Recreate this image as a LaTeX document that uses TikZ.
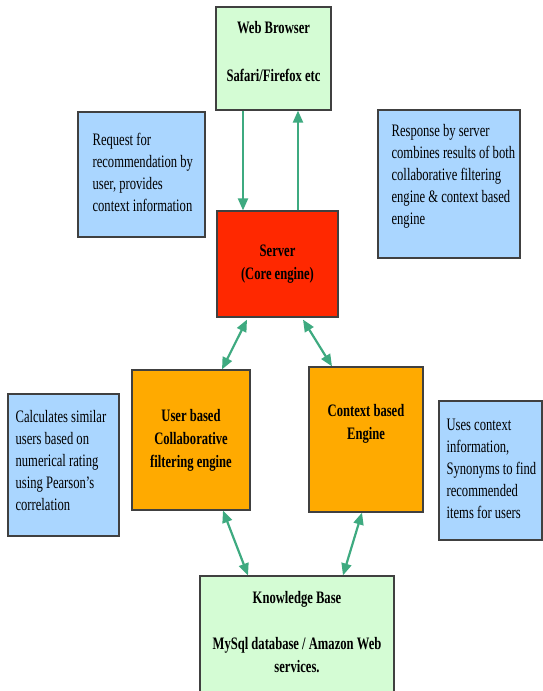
\documentclass[tikz,border=0pt]{standalone}
\usepackage{fontspec}
\setmainfont{Liberation Serif}[FakeStretch=0.72]
\usetikzlibrary{arrows.meta,calc}
\definecolor{boxgreen}{RGB}{212,252,212}
\definecolor{boxblue}{RGB}{170,214,255}
\definecolor{boxred}{RGB}{255,40,0}
\definecolor{boxorange}{RGB}{255,170,0}
\definecolor{arrowgreen}{RGB}{62,170,128}
\definecolor{edgegray}{RGB}{64,64,64}
\begin{document}
\begin{tikzpicture}[x=1pt,y=-1pt,
  box/.style={draw=edgegray, line width=1.2pt, rectangle, inner sep=0pt},
  greenbox/.style={box, fill=boxgreen},
  bluebox/.style={box, fill=boxblue},
  redbox/.style={box, fill=boxred},
  orangebox/.style={box, fill=boxorange},
  btxt/.style={font=\fontsize{17.5}{23}\selectfont\bfseries, align=center},
  note/.style={anchor=west, align=left, inner sep=0pt, font=\fontsize{17.5}{22}\selectfont},
  link/.style={draw=arrowgreen, line width=2.2pt, -{Triangle[length=12pt,width=10pt]}},
  duplex/.style={draw=arrowgreen, line width=2.2pt, {Triangle[length=12pt,width=10pt]}-{Triangle[length=12pt,width=10pt]}},
]
\useasboundingbox (0,0) rectangle (543,691);
\clip (0,0) rectangle (543,691);

% main boxes
\node[greenbox, minimum width=115pt, minimum height=103pt,
  label={[btxt, yshift=6.5pt]center:{Web Browser\\[25pt]Safari/Firefox etc}}]
  (browser) at (273.5,58.5) {};
\node[redbox, btxt, minimum width=121pt, minimum height=106pt]
  (server) at (277.5,264) {Server\\(Core engine)};
\node[orangebox, btxt, minimum width=118pt, minimum height=140pt]
  (user) at (191,440) {User based\\Collaborative\\filtering engine};
\node[orangebox, minimum width=114pt, minimum height=145pt,
  label={[btxt, yshift=16pt]center:{Context based\\Engine}}]
  (context) at (366,439.5) {};
\node[greenbox, minimum width=194pt, minimum height=117pt,
  label={[btxt, yshift=2.5pt]center:{Knowledge Base\\[23pt]MySql database / Amazon Web\\services.}}]
  (kb) at (297,634.5) {};

% notes
\node[bluebox, minimum width=127pt, minimum height=125pt,
  label={[note, xshift=15pt, yshift=2pt]west:{Request for\\recommendation by\\user, provides\\context information}}]
  (request) at (141.5,174.5) {};
\node[bluebox, minimum width=142pt, minimum height=148pt,
  label={[note, xshift=14pt, yshift=7.5pt]west:{Response by server\\combines results of both\\collaborative filtering\\engine \& context based\\engine}}]
  (response) at (449,184) {};
\node[bluebox, minimum width=111pt, minimum height=142pt,
  label={[note, xshift=8pt, yshift=4pt]west:{Calculates similar\\users based on\\numerical rating\\using Pearson’s\\correlation}}]
  (calc) at (63.5,465) {};
\node[bluebox, minimum width=103pt, minimum height=139pt,
  label={[note, xshift=8pt, yshift=2pt]west:{Uses context\\information,\\Synonyms to find\\recommended\\items for users}}]
  (uses) at (490.5,470.5) {};

% connectors
\draw[link] ($(browser.south)+(-30.5,0)$) -- ($(server.north)+(-34.5,0)$);
\draw[link] ($(server.north)+(20.5,0)$) -- ($(browser.south)+(24.5,0)$);
\draw[duplex] ($(server.south)+(-30.5,2)$) -- ($(user.north)+(31,0)$);
\draw[duplex] ($(server.south)+(25.5,2)$) -- ($(context.north)+(-34,0)$);
\draw[duplex] ($(user.south)+(32,0)$) -- ($(kb.north)+(-49,0)$);
\draw[duplex] ($(context.south)+(-4,0)$) -- ($(kb.north)+(46,0)$);
\end{tikzpicture}
\end{document}
